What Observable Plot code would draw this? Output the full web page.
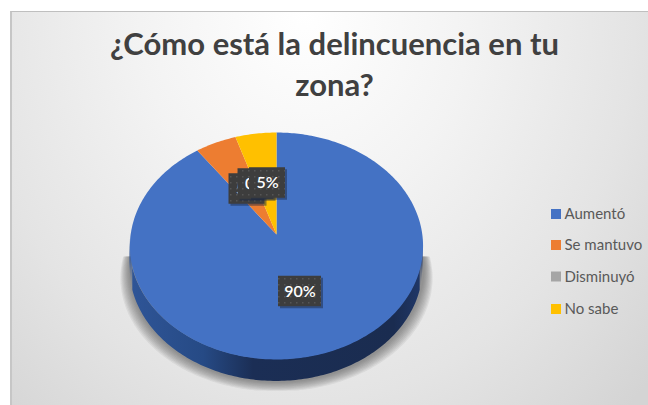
<!DOCTYPE html>
<html><head><meta charset="utf-8">
<script src="https://cdn.jsdelivr.net/npm/d3@7"></script>
<script src="https://cdn.jsdelivr.net/npm/@observablehq/plot@0.6"></script>
<style>
html,body{margin:0;padding:0;background:#fff;overflow:hidden;}
#frame{position:absolute;left:10px;top:11px;width:638px;height:394px;box-sizing:border-box;border-left:2px solid #c6c6c6;border-top:1px solid #bfbfbf;
background:radial-gradient(ellipse 330px 390px at 46% 0,#ffffff 0,#f3f3f3 50%,#e4e4e4 100%,#d4d4d4 141%);}
#chart{position:absolute;left:0;top:0;}
</style></head><body>
<div id="frame"></div><div id="chart"></div>
<script>
const categories = ["Aumentó", "Se mantuvo", "Disminuyó", "No sabe"];
const values = [90, 5, 0, 5];
const labels = ["90%", "5%", "0%", "5%"];
const colors = ["#4472c4", "#ed7d31", "#a5a5a5", "#ffc000"];
const titleLines = ["¿Cómo está la delincuencia en tu", "zona?"];

// perspective view of the disc
const cx = 276, cy = 234, B = 145.8, A = 112.3, k = 0.1013, depth = 22;
const proj = t => {
  const u = Math.sin(t), v = Math.cos(t), w = 1 + k * v;
  return {x: cx + B * u / w, y: cy - A * v / w};
};
const total = d3.sum(values);
let acc = 0;
const slices = [];
categories.forEach((c, i) => {
  const a0 = acc / total * 2 * Math.PI; acc += values[i];
  const a1 = acc / total * 2 * Math.PI;
  if (a1 > a0) {
    const n = Math.max(2, Math.ceil((a1 - a0) * 60));
    slices.push({c, pts: [{x: cx, y: cy}, ...d3.range(n + 1).map(j => proj(a0 + (a1 - a0) * j / n))]});
  }
});
const polys = slices.flatMap(s => s.pts.map(p => ({...p, c: s.c})));

// side wall: visible lower rim of the disc
const rim = d3.range(0, 361).map(j => proj(j / 360 * 2 * Math.PI));
const lower = rim.filter((p, j) => j >= 85 && j <= 275).sort((a, b) => a.x - b.x);
const side = lower.map(p => ({x: p.x, y1: p.y, y2: p.y + depth}));

// soft shadow, built from nested translucent outlines, cut by the plot area
const shadowLayers = d3.range(9).flatMap(l => rim.map(p => ({
  l,
  x: cx + (p.x - cx) * (1.065 - l * 0.007),
  y: Math.min(390, Math.max(256 + (8 - l) * 0, p.y + depth + 10 - l * 1.1))
})));

const defs = () => {
  const d = d3.create("svg:defs");
  const g = d.append("linearGradient").attr("id", "sideGrad").attr("gradientUnits", "userSpaceOnUse")
    .attr("x1", 130).attr("x2", 423).attr("y1", 0).attr("y2", 0);
  [[0, "#2f5597"], [0.25, "#264a85"], [0.42, "#1b2e55"], [0.9, "#1a2c50"], [1, "#20386a"]]
    .forEach(([o, c]) => g.append("stop").attr("offset", o).attr("stop-color", c));
  const p = d.append("pattern").attr("id", "labelDots").attr("patternUnits", "userSpaceOnUse")
    .attr("width", 6).attr("height", 6);
  p.append("rect").attr("width", 6).attr("height", 6).attr("fill", "#3d3d3d");
  p.append("rect").attr("x", 2).attr("y", 2).attr("width", 1.5).attr("height", 1.5).attr("fill", "#555");
  return d.node();
};

// data labels
const labelPos = [
  {x: 299.5, y: 291}, {x: 246.5, y: 188.5}, {x: 255.5, y: 183.5}, {x: 267, y: 182.5}
];
const labelData = labels.map((t, i) => ({t, ...labelPos[i], w: t.length > 2 ? 43 : 36, h: 30.5}));
const box = (d, o = 0) => ({x1: d.x - d.w / 2 + o, x2: d.x + d.w / 2 + o, y1: d.y - d.h / 2 + o, y2: d.y + d.h / 2 + o});
const boxMarks = labelData.flatMap(d => [
  Plot.rect([box(d, 2)], {x1: "x1", x2: "x2", y1: "y1", y2: "y2", fill: "#1c2a45", fillOpacity: 0.5}),
  Plot.rect([box(d)], {x1: "x1", x2: "x2", y1: "y1", y2: "y2", fill: "url(#labelDots)"}),
  Plot.text([d], {x: "x", y: "y", text: "t", fill: "#fff", fontSize: 16, fontWeight: 600})
]);

// legend
const legendRows = [214, 245, 276.5, 309];
const legend = categories.map((c, i) => ({c, y: legendRows[i]}));

const plot = Plot.plot({
  width: 648, height: 405, margin: 0,
  x: {domain: [0, 648], range: [0, 648], axis: null},
  y: {domain: [0, 405], range: [0, 405], axis: null},
  color: {domain: categories, range: colors},
  style: {fontFamily: "Lato, sans-serif", background: "transparent"},
  marks: [
    defs,
    Plot.line(shadowLayers, {x: "x", y: "y", z: "l", fill: "#555", fillOpacity: 0.085, stroke: "none", curve: "linear-closed"}),
    Plot.areaY(side, {x: "x", y1: "y1", y2: "y2", fill: "url(#sideGrad)"}),
    Plot.line(polys, {x: "x", y: "y", z: "c", fill: "c", stroke: "none", curve: "linear-closed"}),
    ...boxMarks,
    Plot.text(titleLines, {x: 334, y: (d, i) => 45 + i * 41, text: d => d, fill: "#404040", fontSize: 31, fontWeight: 700}),
    Plot.rect(legend, {x1: 551, x2: 561, y1: d => d.y - 5, y2: d => d.y + 5, fill: "c"}),
    Plot.text(legend, {x: 564, y: "y", text: "c", textAnchor: "start", fill: "#595959", fontSize: 15})
  ]
});
document.getElementById("chart").append(plot);
</script></body></html>
